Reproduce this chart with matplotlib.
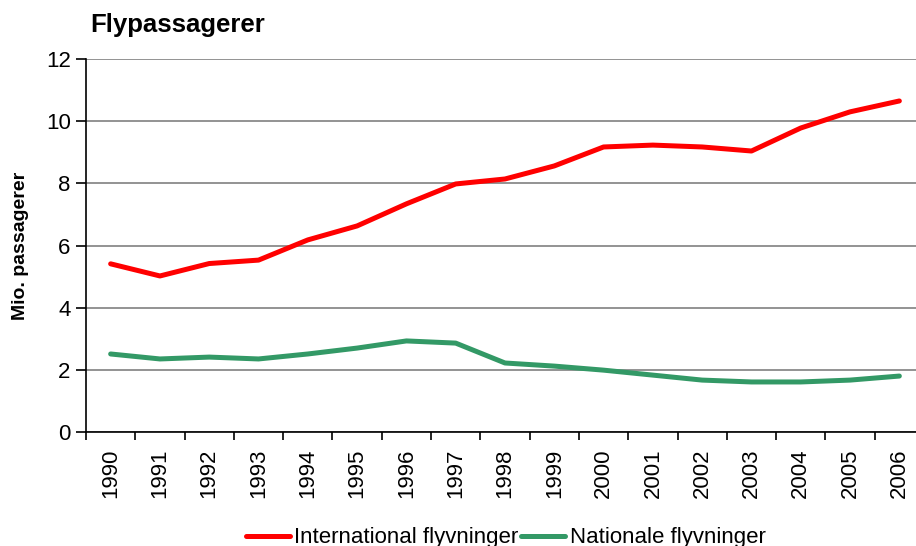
import matplotlib
matplotlib.use("Agg")
import matplotlib.pyplot as plt
import numpy as np

years = [str(y) for y in range(1990, 2007)]
international = [5.41, 5.02, 5.42, 5.53, 6.18, 6.63, 7.34, 7.98, 8.14, 8.56,
                 9.17, 9.23, 9.17, 9.04, 9.78, 10.30, 10.65]
nationale = [2.51, 2.35, 2.41, 2.35, 2.51, 2.70, 2.93, 2.86, 2.22, 2.12,
             1.99, 1.83, 1.67, 1.61, 1.61, 1.67, 1.80]

plt.rcParams["font.family"] = ["Liberation Sans", "DejaVu Sans"]

W, H = 916, 546
fig = plt.figure(figsize=(W / 100, H / 100), dpi=100)
# plot area runs slightly past the right edge, as in the reference
ax = fig.add_axes([86 / W, 1 - 432 / H, (924 - 86) / W, (432 - 59) / H])

x = np.arange(len(years))
ax.plot(x, international, color="#ff0000", lw=3.6, label="International flyvninger",
        solid_capstyle="round", solid_joinstyle="round")
ax.plot(x, nationale, color="#339966", lw=3.6, label="Nationale flyvninger",
        solid_capstyle="round", solid_joinstyle="round")

ax.set_xlim(-0.5, len(years) - 0.5)
ax.set_ylim(0, 12)
ax.set_yticks(range(0, 13, 2))
ax.yaxis.grid(True, color="#808080", lw=1.2)
ax.set_axisbelow(True)

# category labels centred, tick marks on category boundaries
ax.set_xticks(x)
ax.set_xticklabels(years, rotation=90, fontsize=16)
ax.tick_params(axis="x", which="major", length=0, pad=12)
ax.set_xticks(np.arange(len(years) + 1) - 0.5, minor=True)
ax.tick_params(axis="x", which="minor", length=6, width=1.2, color="black")
ax.tick_params(axis="y", length=7, width=1.2, labelsize=16, pad=4)

for s in ("top", "right"):
    ax.spines[s].set_visible(False)
ax.spines["left"].set_linewidth(1.2)
ax.spines["bottom"].set_linewidth(1.2)

ax.set_ylabel("Mio. passagerer", fontsize=14, fontweight="bold", labelpad=12)
fig.text(90 / W, 1 - 25 / H, "Flypassagerer", fontsize=18.5, fontweight="bold",
         va="center", ha="left")

fig.legend(loc="center", bbox_to_anchor=(0.552, 1 - 538 / H), ncol=2, frameon=False,
           fontsize=16, handlelength=2.0, handletextpad=0.2, columnspacing=0.1,
           borderaxespad=0, borderpad=0)

fig.savefig("out.png", dpi=100)
